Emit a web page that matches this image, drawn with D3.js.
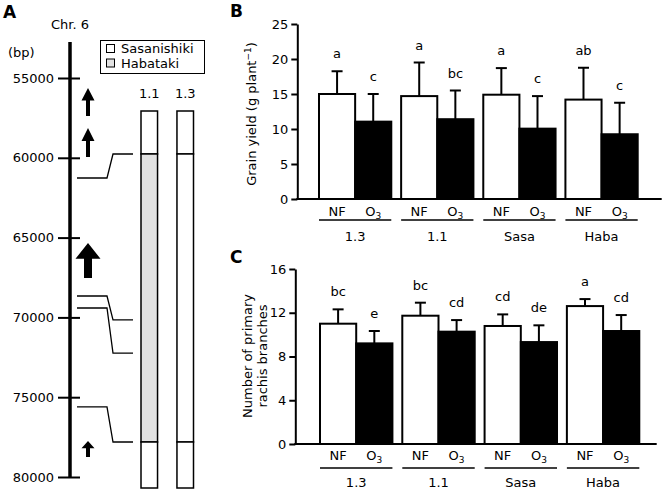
<!DOCTYPE html>
<html><head><meta charset="utf-8">
<script src="https://cdn.jsdelivr.net/npm/d3@7"></script>
<style>body{margin:0;background:#fff} text{font-family:"DejaVu Sans",Verdana,sans-serif;fill:#000}</style>
</head><body><svg id="c" width="666" height="491"></svg>
<script>
// ---------- Panel A data ----------
const chrTicks = [55000, 60000, 65000, 70000, 75000, 80000];
const geneTail = [57380, 59950, 67530, 78750];   // bp
const geneTip  = [55630, 58130, 65340, 77740];   // bp
const geneLarge = [false, false, true, false];
const markerBp  = [61265, 68660, 69410, 75610];
const markerMap = [11.4, 55.4, 64.2, 87.8];      // position along the line bars (0-100)
const lineNames = ["1.1", "1.3"];
const segBounds = [0, 11.4, 87.8, 100];
const segLine11 = ["Sasanishiki", "Habataki", "Sasanishiki"];
const segLine13 = ["Sasanishiki", "Sasanishiki", "Sasanishiki"];
const genotypes = ["Sasanishiki", "Habataki"];

// ---------- Panels B / C data ----------
const groups = ["1.3", "1.1", "Sasa", "Haba"];
const treatments = ["NF", "O3"];
const yieldNF    = [15.0, 14.7, 14.9, 14.2];
const yieldNFerr = [3.25, 4.8, 3.8, 4.55];
const yieldO3    = [11.05, 11.4, 10.05, 9.25];
const yieldO3err = [3.95, 4.1, 4.65, 4.5];
const yieldNFlet = ["a", "a", "a", "ab"];
const yieldO3let = ["c", "bc", "c", "c"];
const yieldTicks = [0, 5, 10, 15, 20, 25];

const branchNF    = [11.0, 11.73, 10.79, 12.61];
const branchNFerr = [1.31, 1.19, 1.06, 0.64];
const branchO3    = [9.2, 10.27, 9.32, 10.33];
const branchO3err = [1.13, 1.06, 1.53, 1.46];
const branchNFlet = ["bc", "bc", "cd", "a"];
const branchO3let = ["e", "cd", "de", "cd"];
const branchTicks = [0, 4, 8, 12, 16];

const svg = d3.select("#c");
const FS = 13;

// ---------- Panel A ----------
const gA = svg.append("g");
gA.append("text").attr("x", 3).attr("y", 18).style("font-size", "17px").style("font-weight", "bold").text("A");
gA.append("text").attr("x", 70).attr("y", 29).attr("text-anchor", "middle").style("font-size", FS + "px").text("Chr. 6");
gA.append("text").attr("x", 8).attr("y", 57).style("font-size", FS + "px").text("(bp)");

const yChr = d3.scaleLinear().domain([55000, 80000]).range([78, 477]);
const chrX = 70;
gA.append("line").attr("x1", chrX).attr("x2", chrX).attr("y1", yChr.range()[0] - 36).attr("y2", yChr.range()[1] + 1)
  .attr("stroke", "#000").attr("stroke-width", 3.5);
const axA = d3.axisLeft(yChr).tickValues(chrTicks).tickSize(12).tickSizeOuter(0).tickPadding(4).tickFormat(d3.format("d"));
const gAx = gA.append("g").attr("transform", `translate(${chrX},0)`).call(axA);
gAx.select(".domain").remove();
gAx.selectAll(".tick line").attr("x2", -12).attr("x1", 10).attr("stroke-width", 2);
gAx.selectAll(".tick text").attr("x", -16).style("font-size", FS + "px").style("font-family", '"DejaVu Sans",Verdana,sans-serif').attr("fill", "#000");

// gene arrows
const arrowX = 88;
geneTail.forEach((t, i) => {
  const tip = yChr(geneTip[i]), tail = yChr(geneTail[i]);
  const big = geneLarge[i];
  const sw = big ? 4 : 2, hw = big ? 12.5 : 6.5;
  const hl = Math.min(big ? 17.5 : 13.5, (tail - tip) * 0.45);
  const p = d3.path();
  p.moveTo(arrowX, tip);
  p.lineTo(arrowX + hw, tip + hl);
  p.lineTo(arrowX + sw, tip + hl);
  p.lineTo(arrowX + sw, tail);
  p.lineTo(arrowX - sw, tail);
  p.lineTo(arrowX - sw, tip + hl);
  p.lineTo(arrowX - hw, tip + hl);
  p.closePath();
  gA.append("path").attr("d", p.toString()).attr("fill", "#000");
});

// line bars
const xLine = d3.scaleBand().domain(lineNames).range([141, 193.5]).paddingInner(0.54);
const yMap = d3.scaleLinear().domain([0, 100]).range([111, 488]);
const colG = d3.scaleOrdinal().domain(genotypes).range(["#ffffff", "#e2e2e2"]);

// connectors
markerBp.forEach((bp, i) => {
  const y0 = yChr(bp), y1 = yMap(markerMap[i]);
  gA.append("path").attr("d", `M77,${y0}H107L113,${y1}H133`).attr("fill", "none").attr("stroke", "#000").attr("stroke-width", 1.3);
});

[segLine11, segLine13].forEach((segs, li) => {
  const x = xLine(lineNames[li]);
  segs.forEach((gt, si) => {
    gA.append("rect").attr("x", x).attr("width", xLine.bandwidth())
      .attr("y", yMap(segBounds[si])).attr("height", yMap(segBounds[si + 1]) - yMap(segBounds[si]))
      .attr("fill", colG(gt)).attr("stroke", "#000").attr("stroke-width", 1.5);
  });
  gA.append("text").attr("x", x + xLine.bandwidth() / 2).attr("y", 98).attr("text-anchor", "middle")
    .style("font-size", FS + "px").text(lineNames[li]);
});

// legend
const lg = gA.append("g");
lg.append("rect").attr("x", 100.5).attr("y", 40.5).attr("width", 104).attr("height", 33).attr("fill", "#fff").attr("stroke", "#000").attr("stroke-width", 1);
genotypes.forEach((gt, i) => {
  lg.append("rect").attr("x", 106.5).attr("y", 44.5 + i * 14.5).attr("width", 8).attr("height", 8)
    .attr("fill", colG(gt)).attr("stroke", "#000").attr("stroke-width", 1);
  lg.append("text").attr("x", 121).attr("y", 53 + i * 14.5).style("font-size", FS + "px").text(gt);
});

// ---------- Bar panels ----------
function barPanel(cfg) {
  const g = svg.append("g");
  const y = d3.scaleLinear().domain([0, cfg.max]).range(cfg.yRange);
  const xg = d3.scaleBand().domain(groups).range(cfg.xRange).paddingInner(0.12);
  const xt = d3.scaleBand().domain(treatments).range([0, xg.bandwidth()]);

  g.append("text").attr("x", 230).attr("y", cfg.labelY).style("font-size", "17px").style("font-weight", "bold").text(cfg.label);

  // y axis
  const ax = d3.axisLeft(y).tickValues(cfg.ticks).tickSize(6).tickSizeOuter(0).tickPadding(3);
  const ga = g.append("g").attr("transform", `translate(${cfg.axisX},0)`).call(ax);
  ga.select(".domain").attr("stroke-width", 2);
  ga.selectAll(".tick line").attr("stroke-width", 2);
  ga.selectAll(".tick text").style("font-size", FS + "px").style("font-family", '"DejaVu Sans",Verdana,sans-serif').attr("fill", "#000");

  const series = [
    {t: "NF", v: cfg.nf, e: cfg.nfErr, l: cfg.nfLet, fill: "#fff"},
    {t: "O3", v: cfg.o3, e: cfg.o3Err, l: cfg.o3Let, fill: "#000"}
  ];
  series.forEach(s => {
    groups.forEach((grp, i) => {
      const x0 = xg(grp) + xt(s.t), w = xt.bandwidth(), cx = x0 + w / 2;
      g.append("rect").attr("x", x0).attr("width", w).attr("y", y(s.v[i])).attr("height", y(0) - y(s.v[i]))
        .attr("fill", s.fill).attr("stroke", "#000").attr("stroke-width", 2);
      const ye = y(s.v[i] + s.e[i]);
      g.append("line").attr("x1", cx).attr("x2", cx).attr("y1", y(s.v[i])).attr("y2", ye).attr("stroke", "#000").attr("stroke-width", 2);
      g.append("line").attr("x1", cx - 5.5).attr("x2", cx + 5.5).attr("y1", ye).attr("y2", ye).attr("stroke", "#000").attr("stroke-width", 2);
      g.append("text").attr("x", cx).attr("y", ye - 13).attr("text-anchor", "middle").style("font-size", FS + "px").text(s.l[i]);
      // treatment label
      const tl = g.append("text").attr("x", cx).attr("y", y(0) + cfg.tOff).attr("text-anchor", "middle").style("font-size", FS + "px");
      if (s.t === "O3") {
        tl.append("tspan").text("O");
        tl.append("tspan").attr("dy", 3).style("font-size", "9px").text("3");
      } else tl.text(s.t);
    });
  });

  // x axis
  g.append("line").attr("x1", cfg.axisX - 1).attr("x2", cfg.axisEnd).attr("y1", y(0)).attr("y2", y(0)).attr("stroke", "#000").attr("stroke-width", 2);

  // group underlines and labels
  groups.forEach(grp => {
    const x0 = xg(grp);
    g.append("line").attr("x1", x0).attr("x2", x0 + xg.bandwidth()).attr("y1", y(0) + cfg.uOff).attr("y2", y(0) + cfg.uOff)
      .attr("stroke", "#000").attr("stroke-width", 1.5);
    g.append("text").attr("x", x0 + xg.bandwidth() / 2).attr("y", y(0) + cfg.gOff).attr("text-anchor", "middle")
      .style("font-size", FS + "px").text(grp);
  });

  // y-axis title
  const tt = g.append("text").attr("transform", `translate(${cfg.titleX},${cfg.titleY}) rotate(-90)`)
    .attr("text-anchor", "middle").style("font-size", FS + "px");
  cfg.title(tt);
}

barPanel({
  label: "B", labelY: 17, max: 25, ticks: yieldTicks, yRange: [199, 24], xRange: [319, 637.7],
  axisX: 297.3, axisEnd: 661.7, tOff: 17, uOff: 21, gOff: 42,
  nf: yieldNF, nfErr: yieldNFerr, o3: yieldO3, o3Err: yieldO3err, nfLet: yieldNFlet, o3Let: yieldO3let,
  titleX: 256, titleY: 114,
  title: t => {
    t.append("tspan").text("Grain yield (g plant");
    t.append("tspan").attr("dy", -5).style("font-size", "9px").text("−1");
    t.append("tspan").attr("dy", 5).text(")");
  }
});

barPanel({
  label: "C", labelY: 263, max: 16, ticks: branchTicks, yRange: [444, 269], xRange: [320, 639.3],
  axisX: 295.3, axisEnd: 656.7, tOff: 16, uOff: 24, gOff: 43,
  nf: branchNF, nfErr: branchNFerr, o3: branchO3, o3Err: branchO3err, nfLet: branchNFlet, o3Let: branchO3let,
  titleX: 0, titleY: 0,
  title: t => {
    t.attr("transform", "translate(0,356) rotate(-90)");
    t.append("tspan").attr("x", 0).attr("y", 252).text("Number of primary");
    t.append("tspan").attr("x", 0).attr("y", 267).text("rachis branches");
  }
});
</script></body></html>
